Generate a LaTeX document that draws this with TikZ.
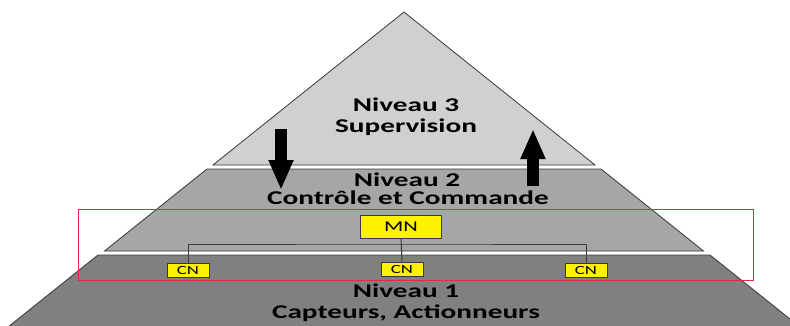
\documentclass[tikz,border=0pt]{standalone}
\usepackage{fontspec}
\setmainfont{Carlito}
\usepackage{graphicx}
\usetikzlibrary{arrows.meta}
\definecolor{lthree}{HTML}{D0D0D0}
\definecolor{ltwo}{HTML}{A6A6A6}
\definecolor{lone}{HTML}{808080}
\definecolor{edgec}{HTML}{3A3A3A}
\definecolor{redbox}{HTML}{E8283C}
\newcommand{\wtxt}[1]{\scalebox{1.5}[1]{#1}}
\begin{document}
\begin{tikzpicture}[x=1pt,y=-1pt,
  layer/.style={draw=edgec, line width=0.8pt, line join=miter},
  lvl/.style={font=\fontsize{19.5}{20}\selectfont\bfseries, text=black, inner sep=0pt, anchor=base},
  mnbox/.style={draw=edgec, line width=1pt, fill=yellow, minimum width=81pt, minimum height=23pt, inner sep=0pt, font=\fontsize{15}{16}\selectfont},
  cnbox/.style={draw=edgec, line width=1pt, fill=yellow, minimum width=42pt, minimum height=14pt, inner sep=0pt, font=\fontsize{12.5}{13}\selectfont},
  bus/.style={draw=edgec, line width=1pt},
  bigarrow/.style={line width=12pt, -{Triangle[width=23pt,length=30pt]}}
]
\useasboundingbox (0,0) rectangle (790,325);
\fill[white] (0,0) rectangle (790,325);
\begin{scope}
\clip (0,0) rectangle (790,325);
% Level 3
\draw[layer, fill=lthree] (404,12) -- (595,165) -- (213,165) -- cycle;
% Level 2
\draw[layer, fill=ltwo] (207,169) -- (601,169) -- (703.5,251) -- (104.5,251) -- cycle;
% Level 1
\draw[layer, fill=lone] (98,255) -- (710,255) -- (810,335) -- (-2,335) -- cycle;
\end{scope}

% texts
\node[lvl] (n3a) at (406,111) {\wtxt{Niveau 3}};
\node[lvl] (n3b) at (406,132) {\wtxt{Supervision}};
\node[lvl] (n2a) at (407,186) {\wtxt{Niveau 2}};
\node[lvl] (n2b) at (408,204) {\wtxt{Contrôle et Commande}};
\node[lvl] (n1a) at (406,297) {\wtxt{Niveau 1}};
\node[lvl] (n1b) at (406,318) {\wtxt{Capteurs, Actionneurs}};

% arrows
\coordinate (dA) at (281,129);
\coordinate (dB) at (281,190);
\coordinate (uA) at (533,186);
\coordinate (uB) at (533,129);
\draw[bigarrow] (dA) -- (dB);
\draw[bigarrow] (uA) -- (uB);

% red frame
\draw[redbox, line width=0.9pt] (78,209) rectangle (753,280) node[coordinate] (frame) {};

% network
\node[mnbox] (mn) at (401,227) {\wtxt{MN}};
\node[cnbox] (cn1) at (188,270) {\wtxt{CN}};
\node[cnbox] (cn2) at (402,269) {\wtxt{CN}};
\node[cnbox] (cn3) at (586,270) {\wtxt{CN}};
\coordinate (busy) at (401,244);
\draw[bus] (mn.south) -- (cn2.north);
\draw[bus] (cn1.north) |- (busy) -| (cn3.north);
\end{tikzpicture}
\end{document}
